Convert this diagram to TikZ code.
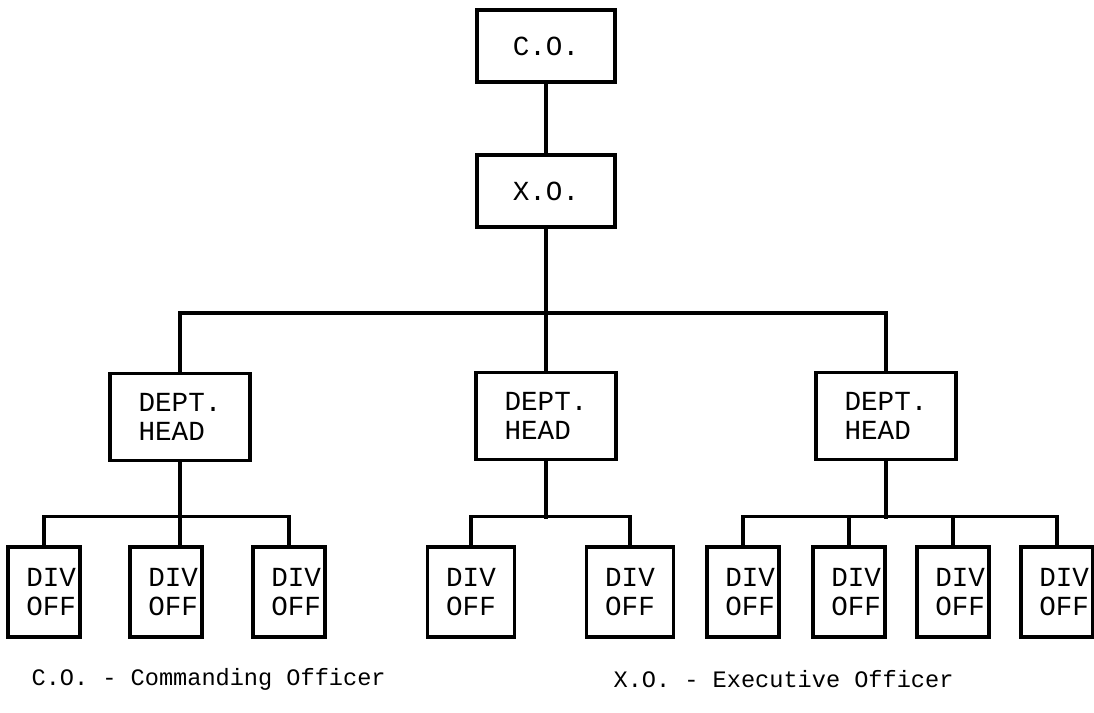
\documentclass[tikz,border=0pt]{standalone}
\usepackage{fontspec}
\setmainfont{Liberation Mono}
\usetikzlibrary{positioning}

\newcommand{\boxfont}{\fontsize{13.8}{14.5}\selectfont}
\newcommand{\keyfont}{\fontsize{11.8}{13}\selectfont}

\tikzset{
  topbox/.style={draw, font=\boxfont, minimum width=69pt, minimum height=36pt, inner sep=0pt},
  deptbox/.style={draw, font=\boxfont, align=left, minimum width=70pt, minimum height=43.5pt, inner sep=0pt},
  divbox/.style={draw, font=\boxfont, align=right, text width=32pt, minimum height=45pt, inner ysep=0pt, inner xsep=2pt},
  widediv/.style={align=center, text width=39.5pt},
  keytext/.style={font=\keyfont, anchor=west, inner sep=0pt},
}

\begin{document}
\begin{tikzpicture}[x=0.5pt, y=-0.5pt, line width=1.6pt]
\useasboundingbox (0,0) rectangle (1094,713);
% top of the chart
\node[topbox] (co) at (546,46) {C.O.};
\node[topbox] (xo) at (546,191) {X.O.};
\node[deptbox] (deptL) at (180,417) {DEPT.\\HEAD};
\node[deptbox] (deptM) at (546,416) {DEPT.\\HEAD};
\node[deptbox] (deptR) at (886,416) {DEPT.\\HEAD};
\draw (co) -- (xo);
\draw (xo.south) -- (deptM.north);
\draw (deptL.north) -- ++(0,-59) -| (deptR.north);
% division officers
\foreach \n/\x in {1/44,2/166,3/289}
    \node[divbox] (divL\n) at (\x,592) {DIV\\OFF};
\foreach \n/\x in {1/471,2/630}
    \node[divbox, widediv] (divM\n) at (\x,592) {DIV\\OFF};
\foreach \n/\x in {1/743,2/849,3/953,4/1057}
    \node[divbox] (divR\n) at (\x,592) {DIV\\OFF};
\draw (divL1.north) -- ++(0,-29) -| (divL3.north);
\draw (deptL.south) -- (deptL.south |- divL2.north);
\draw (divM1.north) -- ++(0,-29) -| (divM2.north);
\draw (deptM.south) -- ++(0,58);
\draw (divR1.north) -- ++(0,-29) -| (divR4.north);
\foreach \n in {2,3}
    \draw (divR\n.north) -- ++(0,-29);
\draw (deptR.south) -- ++(0,58);
% key
\node[keytext] (keyco) at (30,679) {C.O. - Commanding Officer};
\node[keytext] (keyxo) at (612,679) {X.O. - Executive Officer};
\end{tikzpicture}
\end{document}
